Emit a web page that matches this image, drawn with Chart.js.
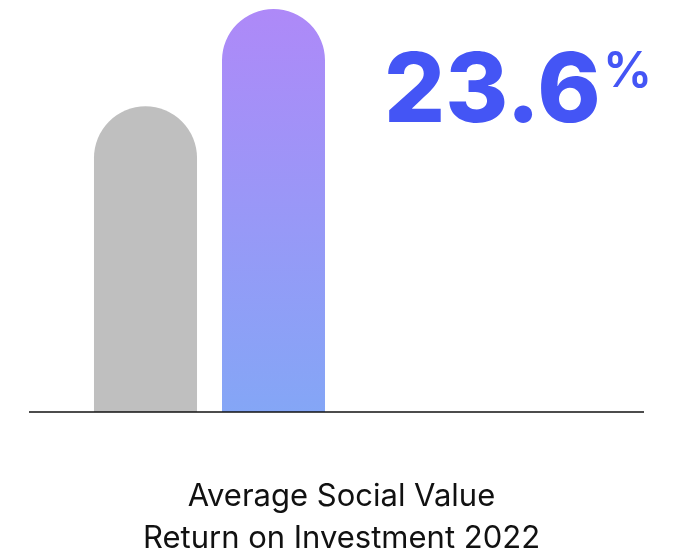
<!DOCTYPE html>
<html>
<head>
<meta charset="utf-8">
<script src="https://cdn.jsdelivr.net/npm/chart.js@4/dist/chart.umd.min.js"></script>
<style>
    html, body { margin: 0; padding: 0; background: #fff; }
    #wrap { position: relative; width: 683px; height: 555px; font-family: Inter, "Noto Sans", sans-serif; }
    #roiChart { position: absolute; left: 0; top: 0; }
    .big { position: absolute; left: 384px; top: 39px; font-size: 96px; font-weight: 800; line-height: 1; color: #4455f5; }
    .pct { position: absolute; left: 603px; top: 45px; font-size: 49px; font-weight: 600; line-height: 1; color: #4455f5; }
    .caption { position: absolute; left: 0; width: 683px; top: 474px; text-align: center; font-size: 31px; line-height: 42px; color: #111; }
</style>
</head>
<body>
<div id="wrap">
    <canvas id="roiChart" width="683" height="555"></canvas>
    <div class="big" id="bigValue"></div>
    <div class="pct">%</div>
    <div class="caption" id="caption"></div>
</div>
<script>
const categories = ["Benchmark", "2022"];
const roiValues = [17.9, 23.6];
const highlightValue = "23.6";
const captionLines = ["Average Social Value", "Return on Investment 2022"];

document.getElementById("bigValue").textContent = highlightValue;
document.getElementById("caption").innerHTML = captionLines.join("<br>");

function barFill(context) {
    if (context.dataIndex === 0) return "#bfbfbf";
    const chart = context.chart;
    const area = chart.chartArea;
    if (!area) return "#9a97f6";
    const g = chart.ctx.createLinearGradient(0, area.top, 0, area.bottom);
    g.addColorStop(0, "#ae89f8");
    g.addColorStop(1, "#84a6f6");
    return g;
}

// axis rule running across the full width under the bars
const baseline = {
    id: "baseline",
    afterDatasetsDraw(chart) {
        const y = chart.scales.y.getPixelForValue(0);
        const c = chart.ctx;
        c.save();
        c.strokeStyle = "#111";
        c.lineWidth = 1.5;
        c.beginPath();
        c.moveTo(29, y);
        c.lineTo(644, y);
        c.stroke();
        c.restore();
    }
};

const ctx = document.getElementById("roiChart").getContext("2d");

new Chart(ctx, {
    type: "bar",
    data: {
        labels: categories,
        datasets: [{
            data: roiValues,
            backgroundColor: barFill,
            borderRadius: 60,
            borderSkipped: "start",
            categoryPercentage: 1,
            barPercentage: 0.805
        }]
    },
    options: {
        responsive: false,
        animation: false,
        layout: { padding: { left: 81.5, right: 345.5, top: 9, bottom: 143 } },
        plugins: { legend: { display: false }, tooltip: { enabled: false } },
        scales: {
            x: { display: false },
            y: { display: false, min: 0, max: 23.6 }
        }
    },
    plugins: [baseline]
});
</script>
</body>
</html>
